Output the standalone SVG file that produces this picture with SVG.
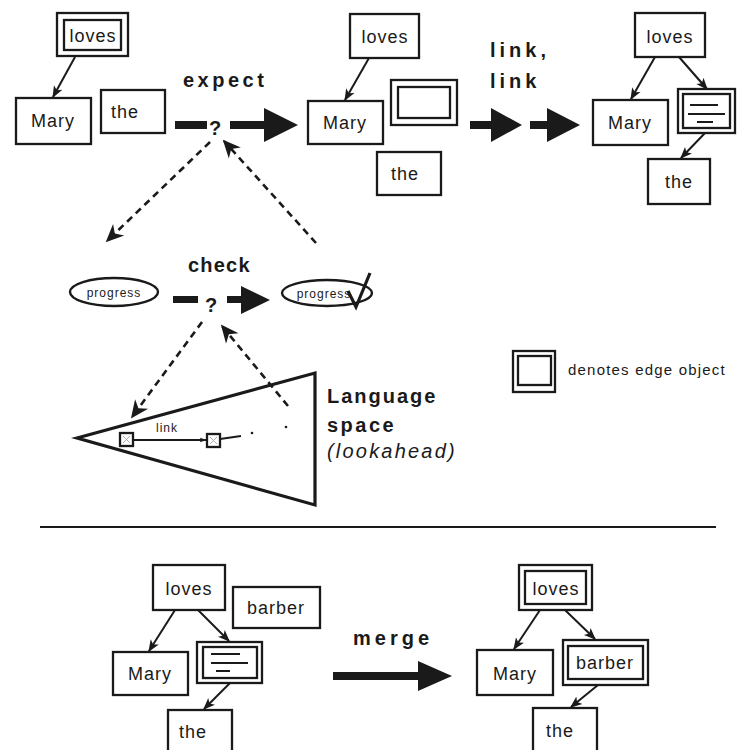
<svg xmlns="http://www.w3.org/2000/svg" width="746" height="750" viewBox="0 0 746 750">
<style>
.bx{fill:#fff;stroke:#1a1a1a;stroke-width:2.3}
.lb{font-family:"Liberation Sans",Arial,sans-serif;font-size:18px;letter-spacing:1px;fill:#1a1a1a;text-anchor:middle}
.bd{font-family:"Liberation Sans",Arial,sans-serif;font-weight:bold;font-size:20px;fill:#1a1a1a}
.ln{stroke:#1a1a1a;stroke-width:2;fill:none}
.thick{fill:#1a1a1a}
.dash{stroke:#1a1a1a;stroke-width:2.6;fill:none;stroke-dasharray:7 5}
.el{fill:#fff;stroke:#1a1a1a;stroke-width:2.4}
.sm{font-family:"Liberation Sans",Arial,sans-serif;font-size:12px;letter-spacing:1px;fill:#1a1a1a;text-anchor:middle}
</style>
<defs>
<marker id="ah" viewBox="0 0 10 10" refX="9" refY="5" markerWidth="7" markerHeight="7" orient="auto" markerUnits="userSpaceOnUse">
<path d="M0,1.5 L10,5 L0,8.5 L2,5 Z" fill="#1a1a1a"/>
</marker>
<marker id="ahs" viewBox="0 0 10 10" refX="9" refY="5" markerWidth="12" markerHeight="12" orient="auto" markerUnits="userSpaceOnUse">
<path d="M0,1 L10,5 L0,9 L2.5,5 Z" fill="#1a1a1a"/>
</marker>
<marker id="ahd" viewBox="0 0 10 10" refX="9" refY="5" markerWidth="18" markerHeight="18" orient="auto" markerUnits="userSpaceOnUse">
<path d="M0,0.5 L10,5 L0,9.5 L3,5 Z" fill="#1a1a1a"/>
</marker>
</defs>
<rect width="746" height="750" fill="#fff"/>

<!-- Connectors -->
<g id="connectors">
<line class="ln" x1="75" y1="57" x2="53" y2="97" marker-end="url(#ahs)"/>
<line class="ln" x1="369" y1="58" x2="345" y2="100" marker-end="url(#ahs)"/>
<line class="ln" x1="655" y1="57" x2="631" y2="99" marker-end="url(#ahs)"/>
<line class="ln" x1="679" y1="57" x2="707" y2="89" marker-end="url(#ahs)"/>
<line class="ln" x1="705" y1="133" x2="681" y2="158" marker-end="url(#ahs)"/>
<line class="ln" x1="175" y1="610" x2="149" y2="651" marker-end="url(#ahs)"/>
<line class="ln" x1="198" y1="610" x2="229" y2="641" marker-end="url(#ahs)"/>
<line class="ln" x1="230" y1="683" x2="204" y2="709" marker-end="url(#ahs)"/>
<line class="ln" x1="540" y1="610" x2="514" y2="649" marker-end="url(#ahs)"/>
<line class="ln" x1="565" y1="610" x2="595" y2="639" marker-end="url(#ahs)"/>
<line class="ln" x1="598" y1="685" x2="571" y2="707" marker-end="url(#ahs)"/>

<!-- dashed -->
<line class="dash" x1="210" y1="142" x2="107" y2="241" marker-end="url(#ahd)"/>
<line class="dash" x1="316" y1="243" x2="224" y2="141" marker-end="url(#ahd)"/>
<line class="dash" x1="202" y1="322" x2="132" y2="417" marker-end="url(#ahd)"/>
<line class="dash" x1="288" y1="406" x2="222" y2="326" marker-end="url(#ahd)"/>

<!-- thick arrows -->
<rect class="thick" x="175" y="121" width="32" height="8"/>
<path class="thick" d="M230,121 H264 V108 L298,125 L264,142 V129 H230 Z"/>
<path class="thick" d="M470,121 H491 V108 L522,125 L491,142 V129 H470 Z"/>
<path class="thick" d="M530,121 H547 V108 L580,125 L547,142 V129 H530 Z"/>
<rect class="thick" x="173" y="296" width="25" height="7"/>
<path class="thick" d="M227,296 H241 V286 L270,300 L241,314 V303 H227 Z"/>
<path class="thick" d="M333,672 H418 V661 L452,676 L418,691 V680 H333 Z"/>

<!-- lookahead link -->
<line class="ln" x1="133" y1="440" x2="206" y2="440" marker-end="url(#ah)"/>
<line class="ln" x1="220" y1="439" x2="241" y2="436"/>
</g>

<!-- Labels for operations -->
<g id="labels">
<text class="bd" x="183" y="87" letter-spacing="3.5">expect</text>
<text class="bd" x="215" y="135" font-size="24" text-anchor="middle">?</text>
<text class="bd" x="490" y="57" letter-spacing="4">link,</text>
<text class="bd" x="490" y="88" letter-spacing="4">link</text>
<text class="bd" x="188" y="272" font-size="18" letter-spacing="1.2">check</text>
<text class="bd" x="211" y="312" font-size="28" text-anchor="middle">?</text>
<text class="bd" x="353" y="645" letter-spacing="4">merge</text>
<text class="bd" x="327" y="403" letter-spacing="2">Language</text>
<text class="bd" x="327" y="432" letter-spacing="2.5">space</text>
<text x="327" y="458" font-family="'Liberation Sans',Arial,sans-serif" font-style="italic" font-size="20" letter-spacing="2.2" fill="#1a1a1a">(lookahead)</text>
</g>

<!-- top-left -->
<g id="tl-loves"><rect class="bx" x="57" y="13" width="71" height="43"/><rect class="bx" x="64" y="20" width="57" height="30"/><text class="lb" x="93" y="42">loves</text></g>
<g id="tl-mary"><rect class="bx" x="16" y="98" width="75" height="46"/><text class="lb" x="53" y="127">Mary</text></g>
<g id="tl-the"><rect class="bx" x="101" y="90" width="64" height="43"/><text class="lb" x="125" y="118">the</text></g>

<!-- top-middle -->
<g id="tm-loves"><rect class="bx" x="350" y="14" width="69" height="44"/><text class="lb" x="385" y="43">loves</text></g>
<g id="tm-edge"><rect class="bx" x="391" y="80" width="66" height="45"/><rect class="bx" x="398" y="87" width="52" height="31"/></g>
<g id="tm-mary"><rect class="bx" x="308" y="101" width="75" height="43"/><text class="lb" x="345" y="129">Mary</text></g>
<g id="tm-the"><rect class="bx" x="377" y="152" width="64" height="43"/><text class="lb" x="405" y="180">the</text></g>

<!-- top-right -->
<g id="tr-loves"><rect class="bx" x="635" y="13" width="70" height="44"/><text class="lb" x="670" y="43">loves</text></g>
<g id="tr-mary"><rect class="bx" x="593" y="100" width="75" height="45"/><text class="lb" x="630" y="129">Mary</text></g>
<g id="tr-edge"><rect class="bx" x="678" y="89" width="57" height="44"/><rect class="bx" x="683" y="94" width="47" height="34"/>
<line class="ln" x1="690" y1="105" x2="718" y2="105"/><line class="ln" x1="688" y1="114" x2="725" y2="114"/><line class="ln" x1="697" y1="122" x2="713" y2="122"/></g>
<g id="tr-the"><rect class="bx" x="648" y="159" width="62" height="45"/><text class="lb" x="679" y="188">the</text></g>

<!-- check row -->
<g id="progress-1"><ellipse class="el" cx="114" cy="292" rx="44" ry="14"/><text class="sm" x="114" y="297">progress</text></g>
<g id="progress-2"><ellipse class="el" cx="327" cy="293" rx="45" ry="13"/><text class="sm" x="324" y="298">progress</text>
<path d="M348,291 L356,307 L370,273" fill="none" stroke="#1a1a1a" stroke-width="3.2"/></g>

<!-- language space -->
<g id="language-space">
<path d="M77,438 L315,373 L315,505 Z" fill="none" stroke="#1a1a1a" stroke-width="3.2" stroke-linejoin="miter"/>
<rect class="bx" x="120" y="433" width="13" height="13" stroke-width="1.8"/>
<path d="M123,436 L130,443 M130,436 L123,443" stroke="#999" stroke-width="0.8"/>
<rect class="bx" x="207" y="434" width="13" height="13" stroke-width="1.8"/>
<path d="M210,437 L217,444 M217,437 L210,444" stroke="#999" stroke-width="0.8"/>
<text class="sm" x="167" y="432" font-size="12" letter-spacing="3">link</text>
<circle cx="252" cy="433" r="1.3" fill="#1a1a1a"/>
<circle cx="286" cy="427" r="1.3" fill="#1a1a1a"/>
</g>

<!-- legend -->
<g id="legend">
<rect class="bx" x="513" y="351" width="42" height="41"/><rect class="bx" x="518" y="356" width="33" height="29"/>
<text x="568" y="375" font-family="'Liberation Sans',Arial,sans-serif" font-size="15" letter-spacing="1.2" fill="#1a1a1a">denotes edge object</text>
</g>

<line x1="40" y1="527" x2="716" y2="527" stroke="#1a1a1a" stroke-width="2"/>

<!-- bottom-left -->
<g id="bl-loves"><rect class="bx" x="153" y="565" width="72" height="45"/><text class="lb" x="189" y="595">loves</text></g>
<g id="bl-barber"><rect class="bx" x="233" y="587" width="87" height="41"/><text class="lb" x="276" y="614" letter-spacing="1.8">barber</text></g>
<g id="bl-mary"><rect class="bx" x="113" y="652" width="75" height="43"/><text class="lb" x="150" y="680">Mary</text></g>
<g id="bl-edge"><rect class="bx" x="197" y="642" width="65" height="41"/><rect class="bx" x="203" y="647" width="54" height="31"/>
<line class="ln" x1="211" y1="654" x2="240" y2="654"/><line class="ln" x1="211" y1="663" x2="248" y2="663"/><line class="ln" x1="216" y1="671" x2="230" y2="671"/></g>
<g id="bl-the"><rect class="bx" x="168" y="710" width="64" height="44"/><text class="lb" x="193" y="738">the</text></g>

<!-- bottom-right -->
<g id="br-loves"><rect class="bx" x="519" y="565" width="73" height="45"/><rect class="bx" x="525" y="571" width="61" height="33"/><text class="lb" x="556" y="595">loves</text></g>
<g id="br-mary"><rect class="bx" x="477" y="650" width="76" height="45"/><text class="lb" x="515" y="680">Mary</text></g>
<g id="br-barber"><rect class="bx" x="563" y="640" width="85" height="45"/><rect class="bx" x="568" y="646" width="75" height="33"/><text class="lb" x="605" y="669" letter-spacing="1.5">barber</text></g>
<g id="br-the"><rect class="bx" x="533" y="708" width="64" height="46"/><text class="lb" x="560" y="737">the</text></g>
</svg>
